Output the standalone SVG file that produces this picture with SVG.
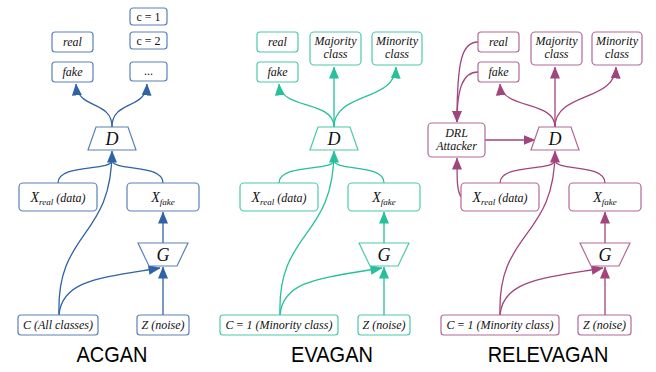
<svg xmlns="http://www.w3.org/2000/svg" width="656" height="372" viewBox="0 0 656 372">
<defs>
<style>
.bb{fill:#fff;stroke:#5a80b8;stroke-width:1.2}
.bt{fill:#fff;stroke:#4ccaa9;stroke-width:1.2}
.bm{fill:#fff;stroke:#b3689a;stroke-width:1.2}
.lb{fill:none;stroke:#2f63a5;stroke-width:1.3}
.lt{fill:none;stroke:#26c09b;stroke-width:1.3}
.lm{fill:none;stroke:#a3457d;stroke-width:1.3}
.t{font-family:'Liberation Serif','Times New Roman',serif;font-style:italic;font-size:12px;fill:#111;text-anchor:middle}
.up{font-style:normal}
.big{font-size:18px}
.xs{font-size:14px}
.sub{font-size:9px}
.title{font-family:'Liberation Sans',Arial,sans-serif;font-style:normal;font-size:20px;fill:#000;text-anchor:middle}
</style>
<marker id="ab" viewBox="0 0 12 10" refX="11.5" refY="5" markerWidth="12" markerHeight="10" markerUnits="userSpaceOnUse" orient="auto"><path d="M0,0 L12,5 L0,10 z" fill="#2f63a5"/></marker>
<marker id="at" viewBox="0 0 12 10" refX="11.5" refY="5" markerWidth="12" markerHeight="10" markerUnits="userSpaceOnUse" orient="auto"><path d="M0,0 L12,5 L0,10 z" fill="#26c09b"/></marker>
<marker id="am" viewBox="0 0 12 10" refX="11.5" refY="5" markerWidth="12" markerHeight="10" markerUnits="userSpaceOnUse" orient="auto"><path d="M0,0 L12,5 L0,10 z" fill="#a3457d"/></marker>
</defs>
<rect width="656" height="372" fill="#fff"/>

<g id="connectors">
<path class="lb" d="M112,127 C112,100 78,110 76,84" marker-end="url(#ab)"/>
<path class="lb" d="M112,127 C112,100 146,110 147,84" marker-end="url(#ab)"/>
<path class="lb" d="M58,183 C58,163 112,172 112,160"/>
<path class="lb" d="M163,183 C163,163 112,172 112,160"/>
<path class="lb" d="M59,315 C56,230 112,240 112,151" marker-end="url(#ab)"/>
<path class="lb" d="M59,315 C62,280 100,278 160,268" marker-end="url(#ab)"/>
<path class="lb" d="M163,315 L163,267" marker-end="url(#ab)"/>
<path class="lb" d="M163,243 L163,212" marker-end="url(#ab)"/>
<path class="lt" d="M334,127 C334,100 281,110 279,84" marker-end="url(#at)"/>
<path class="lt" d="M334,127 L334,67" marker-end="url(#at)"/>
<path class="lt" d="M334,127 C334,92 395,102 396,67" marker-end="url(#at)"/>
<path class="lt" d="M279,183 C279,163 334,172 334,160"/>
<path class="lt" d="M384,183 C384,163 334,172 334,160"/>
<path class="lt" d="M280,315 C277,230 334,240 334,151" marker-end="url(#at)"/>
<path class="lt" d="M280,315 C283,280 322,278 382,268" marker-end="url(#at)"/>
<path class="lt" d="M384,315 L384,267" marker-end="url(#at)"/>
<path class="lt" d="M384,243 L384,212" marker-end="url(#at)"/>
<path class="lm" d="M555,127 C555,100 502,110 500,84" marker-end="url(#am)"/>
<path class="lm" d="M555,127 L555,67" marker-end="url(#am)"/>
<path class="lm" d="M555,127 C555,92 615,102 616,67" marker-end="url(#am)"/>
<path class="lm" d="M478,42 C462,42 457,60 457,122" marker-end="url(#am)"/>
<path class="lm" d="M478,72 C463,72 457,88 457,122" marker-end="url(#am)"/>
<path class="lm" d="M485,140 L535,140" marker-end="url(#am)"/>
<path class="lm" d="M461,197 C457,190 457,182 457,158" marker-end="url(#am)"/>
<path class="lm" d="M500,183 C500,163 555,172 555,160"/>
<path class="lm" d="M605,183 C605,163 555,172 555,160"/>
<path class="lm" d="M500,315 C497,230 555,240 555,151" marker-end="url(#am)"/>
<path class="lm" d="M500,315 C503,280 543,278 603,268" marker-end="url(#am)"/>
<path class="lm" d="M605,315 L605,267" marker-end="url(#am)"/>
<path class="lm" d="M605,243 L605,212" marker-end="url(#am)"/>
</g>

<g id="acgan-real"><rect class="bb" x="52" y="32" width="41" height="20" rx="3"/><text class="t" x="72.5" y="46">real</text></g>
<g id="acgan-fake"><rect class="bb" x="52" y="62" width="41" height="20" rx="3"/><text class="t" x="72.5" y="76">fake</text></g>
<g id="acgan-c1"><rect class="bb" x="130" y="8" width="37" height="17" rx="3"/><text class="t up" x="148.5" y="21">c = 1</text></g>
<g id="acgan-c2"><rect class="bb" x="130" y="32" width="37" height="17" rx="3"/><text class="t up" x="148.5" y="45">c = 2</text></g>
<g id="acgan-dots"><rect class="bb" x="130" y="62" width="37" height="19" rx="3"/><text class="t up" x="148.5" y="75">...</text></g>
<g id="acgan-D"><polygon class="bb" points="96,127 128,127 136,150 88,150"/><text class="t big" x="112" y="145">D</text></g>
<g id="acgan-xreal"><rect class="bb" x="19" y="183" width="78" height="28" rx="4"/><text class="t" x="58" y="202"><tspan class="xs">X</tspan><tspan class="sub" dy="3">real</tspan><tspan dy="-3"> (data)</tspan></text></g>
<g id="acgan-xfake"><rect class="bb" x="127" y="183" width="72" height="28" rx="4"/><text class="t" x="163" y="202"><tspan class="xs">X</tspan><tspan class="sub" dy="3">fake</tspan></text></g>
<g id="acgan-G"><polygon class="bb" points="138,243 188,243 177,266 149,266"/><text class="t big" x="163" y="261">G</text></g>
<g id="acgan-C"><rect class="bb" x="18" y="315" width="80" height="20" rx="3"/><text class="t" x="58" y="329">C (All classes)</text></g>
<g id="acgan-Z"><rect class="bb" x="137" y="315" width="52" height="20" rx="3"/><text class="t" x="163" y="329">Z (noise)</text></g>
<text class="title" transform="translate(112,362) scale(1,1.1)">ACGAN</text>

<g id="evagan-real"><rect class="bt" x="257" y="32" width="41" height="20" rx="3"/><text class="t" x="277.5" y="46">real</text></g>
<g id="evagan-fake"><rect class="bt" x="257" y="62" width="41" height="20" rx="3"/><text class="t" x="277.5" y="76">fake</text></g>
<g id="evagan-maj"><rect class="bt" x="310" y="32" width="51" height="33" rx="4"/><text class="t" x="335.5" y="45">Majority</text><text class="t" x="335.5" y="58">class</text></g>
<g id="evagan-min"><rect class="bt" x="372" y="32" width="50" height="33" rx="4"/><text class="t" x="397" y="45">Minority</text><text class="t" x="397" y="58">class</text></g>
<g id="evagan-D"><polygon class="bt" points="318,127 350,127 358,150 310,150"/><text class="t big" x="334" y="145">D</text></g>
<g id="evagan-xreal"><rect class="bt" x="240" y="183" width="78" height="28" rx="4"/><text class="t" x="279" y="202"><tspan class="xs">X</tspan><tspan class="sub" dy="3">real</tspan><tspan dy="-3"> (data)</tspan></text></g>
<g id="evagan-xfake"><rect class="bt" x="348" y="183" width="72" height="28" rx="4"/><text class="t" x="384" y="202"><tspan class="xs">X</tspan><tspan class="sub" dy="3">fake</tspan></text></g>
<g id="evagan-G"><polygon class="bt" points="359,243 409,243 398,266 370,266"/><text class="t big" x="384" y="261">G</text></g>
<g id="evagan-C"><rect class="bt" x="220" y="315" width="118" height="20" rx="3"/><text class="t" x="279" y="329">C <tspan class="up">=</tspan> 1 (Minority class)</text></g>
<g id="evagan-Z"><rect class="bt" x="358" y="315" width="52" height="20" rx="3"/><text class="t" x="384" y="329">Z (noise)</text></g>
<text class="title" transform="translate(332,362) scale(1,1.1)">EVAGAN</text>

<g id="relevagan-real"><rect class="bm" x="478" y="32" width="41" height="20" rx="3"/><text class="t" x="498.5" y="46">real</text></g>
<g id="relevagan-fake"><rect class="bm" x="478" y="62" width="41" height="20" rx="3"/><text class="t" x="498.5" y="76">fake</text></g>
<g id="relevagan-maj"><rect class="bm" x="531" y="32" width="51" height="33" rx="4"/><text class="t" x="556.5" y="45">Majority</text><text class="t" x="556.5" y="58">class</text></g>
<g id="relevagan-min"><rect class="bm" x="592" y="32" width="50" height="33" rx="4"/><text class="t" x="617" y="45">Minority</text><text class="t" x="617" y="58">class</text></g>
<g id="relevagan-drl"><rect class="bm" x="428" y="123" width="57" height="34" rx="4"/><text class="t" x="456.5" y="137">DRL</text><text class="t" x="456.5" y="150">Attacker</text></g>
<g id="relevagan-D"><polygon class="bm" points="539,127 571,127 579,150 531,150"/><text class="t big" x="555" y="145">D</text></g>
<g id="relevagan-xreal"><rect class="bm" x="461" y="183" width="78" height="28" rx="4"/><text class="t" x="500" y="202"><tspan class="xs">X</tspan><tspan class="sub" dy="3">real</tspan><tspan dy="-3"> (data)</tspan></text></g>
<g id="relevagan-xfake"><rect class="bm" x="569" y="183" width="72" height="28" rx="4"/><text class="t" x="605" y="202"><tspan class="xs">X</tspan><tspan class="sub" dy="3">fake</tspan></text></g>
<g id="relevagan-G"><polygon class="bm" points="580,243 630,243 619,266 591,266"/><text class="t big" x="605" y="261">G</text></g>
<g id="relevagan-C"><rect class="bm" x="441" y="315" width="118" height="20" rx="3"/><text class="t" x="500" y="329">C <tspan class="up">=</tspan> 1 (Minority class)</text></g>
<g id="relevagan-Z"><rect class="bm" x="578" y="315" width="53" height="20" rx="3"/><text class="t" x="604.5" y="329">Z (noise)</text></g>
<text class="title" transform="translate(548,362) scale(1,1.1)">RELEVAGAN</text>
</svg>
